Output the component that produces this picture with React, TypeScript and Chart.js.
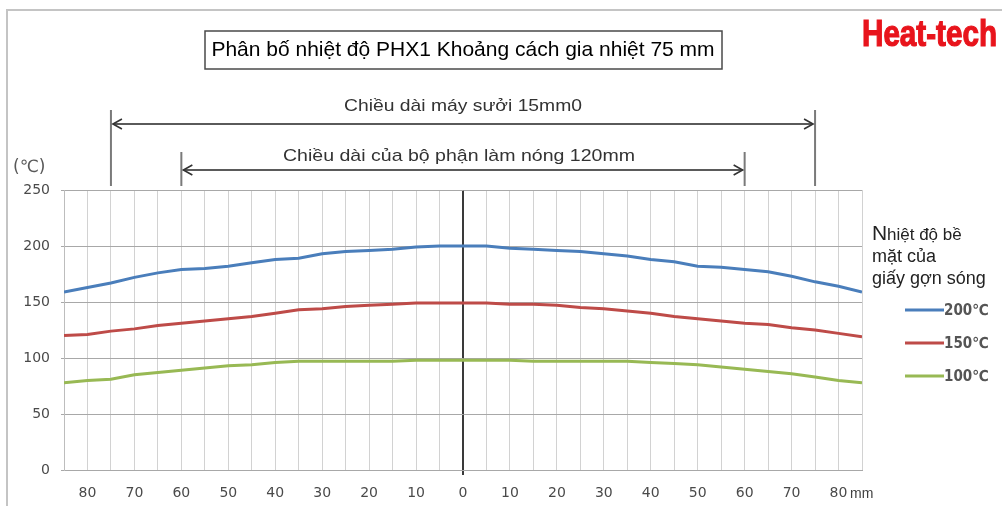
import { useEffect, useRef } from 'react';
import { Chart, registerables } from 'chart.js';

Chart.register(...registerables);

// ---- data ----
const positionsMm = [-85, -80, -75, -70, -65, -60, -55, -50, -45, -40, -35, -30, -25, -20, -15, -10, -5, 0, 5, 10, 15, 20, 25, 30, 35, 40, 45, 50, 55, 60, 65, 70, 75, 80, 85];
const temp200 = [159, 163, 167, 172, 176, 179, 180, 182, 185, 188, 189, 193, 195, 196, 197, 199, 200, 200, 200, 198, 197, 196, 195, 193, 191, 188, 186, 182, 181, 179, 177, 173, 168, 164, 159];
const temp150 = [120, 121, 124, 126, 129, 131, 133, 135, 137, 140, 143, 144, 146, 147, 148, 149, 149, 149, 149, 148, 148, 147, 145, 144, 142, 140, 137, 135, 133, 131, 130, 127, 125, 122, 119];
const temp100 = [78, 80, 81, 85, 87, 89, 91, 93, 94, 96, 97, 97, 97, 97, 97, 98, 98, 98, 98, 98, 97, 97, 97, 97, 97, 96, 95, 94, 92, 90, 88, 86, 83, 80, 78];
const xTickValues = [-85, -80, -75, -70, -65, -60, -55, -50, -45, -40, -35, -30, -25, -20, -15, -10, -5, 0, 5, 10, 15, 20, 25, 30, 35, 40, 45, 50, 55, 60, 65, 70, 75, 80, 85];
const seriesLabels = ['200℃', '150℃', '100℃'];
const seriesColors = ['#4a7ebb', '#be4b48', '#98b954'];
const heaterSpan = [-75, 75];
const elementSpan = [-60, 60];
const titleText = 'Phân bố nhiệt độ PHX1 Khoảng cách gia nhiệt 75 mm';
const heaterLabel = 'Chiều dài máy sưởi 15mm0';
const elementLabel = 'Chiều dài của bộ phận làm nóng 120mm';
const legendTitle = ['hiệt độ bề', 'mặt của', 'giấy gợn sóng'];

function drawArrow(ctx: CanvasRenderingContext2D, x1: number, x2: number, y: number) {
  ctx.save();
  ctx.strokeStyle = '#5a5a5a';
  ctx.lineWidth = 2;
  ctx.beginPath();
  ctx.moveTo(x1 + 2, y);
  ctx.lineTo(x2 - 2, y);
  ctx.stroke();
  ctx.lineWidth = 1.6;
  ctx.strokeStyle = '#333';
  ctx.beginPath();
  ctx.moveTo(x1 + 11, y - 5);
  ctx.lineTo(x1 + 2, y);
  ctx.lineTo(x1 + 11, y + 5);
  ctx.moveTo(x2 - 11, y - 5);
  ctx.lineTo(x2 - 2, y);
  ctx.lineTo(x2 - 11, y + 5);
  ctx.stroke();
  ctx.restore();
}

// draws centred text stretched horizontally to a given width
function drawStretched(ctx: CanvasRenderingContext2D, text: string, cx: number, cy: number, width: number) {
  const w = ctx.measureText(text).width;
  const sx = width / w;
  ctx.save();
  ctx.translate(cx, cy);
  ctx.scale(sx, 1);
  ctx.textAlign = 'center';
  ctx.textBaseline = 'middle';
  ctx.fillText(text, 0, 0);
  ctx.restore();
}

const decorPlugin = {
  id: 'decor',
  beforeDraw(chart: any) {
    const ctx = chart.ctx as CanvasRenderingContext2D;
    ctx.save();
    ctx.fillStyle = '#ffffff';
    ctx.fillRect(0, 0, chart.width, chart.height);
    ctx.restore();
  },
  afterDraw(chart: any) {
    const ctx = chart.ctx as CanvasRenderingContext2D;
    const xs = chart.scales.x;
    const area = chart.chartArea;
    ctx.save();

    // outer frame (top and left)
    ctx.strokeStyle = '#c4c4c4';
    ctx.lineWidth = 2;
    ctx.beginPath();
    ctx.moveTo(7, chart.height);
    ctx.lineTo(7, 10);
    ctx.lineTo(chart.width, 10);
    ctx.stroke();

    // title box
    ctx.strokeStyle = '#4a4a4a';
    ctx.lineWidth = 1.5;
    ctx.strokeRect(205, 31, 517, 38);
    ctx.fillStyle = '#000';
    ctx.font = '21px "Liberation Sans", Arial, sans-serif';
    ctx.textAlign = 'center';
    ctx.textBaseline = 'middle';
    ctx.fillText(titleText, 463, 50, 508);

    // Heat-tech logo
    ctx.fillStyle = '#e8141c';
    ctx.strokeStyle = '#e8141c';
    ctx.lineWidth = 1.2;
    ctx.font = 'bold 36px "Liberation Sans Narrow", "Liberation Sans", sans-serif';
    ctx.textAlign = 'left';
    ctx.textBaseline = 'alphabetic';
    ctx.fillText('Heat-tech', 862, 46, 135);
    ctx.strokeText('Heat-tech', 862, 46, 135);

    // dimension lines
    const hx1 = xs.getPixelForValue(heaterSpan[0]);
    const hx2 = xs.getPixelForValue(heaterSpan[1]);
    const ex1 = xs.getPixelForValue(elementSpan[0]);
    const ex2 = xs.getPixelForValue(elementSpan[1]);
    ctx.strokeStyle = '#7a7a7a';
    ctx.lineWidth = 2;
    ctx.beginPath();
    ctx.moveTo(hx1, 110); ctx.lineTo(hx1, 186);
    ctx.moveTo(hx2, 110); ctx.lineTo(hx2, 186);
    ctx.moveTo(ex1, 152); ctx.lineTo(ex1, 186);
    ctx.moveTo(ex2, 152); ctx.lineTo(ex2, 186);
    ctx.stroke();
    drawArrow(ctx, hx1, hx2, 124);
    drawArrow(ctx, ex1, ex2, 170);

    ctx.fillStyle = '#333';
    ctx.font = '17px "Liberation Sans", Arial, sans-serif';
    drawStretched(ctx, heaterLabel, (hx1 + hx2) / 2, 106, 238);
    drawStretched(ctx, elementLabel, (ex1 + ex2) / 2 - 4, 156, 352);

    // unit label
    ctx.fillStyle = '#595959';
    ctx.font = '17px "DejaVu Sans", sans-serif';
    ctx.textAlign = 'left';
    ctx.textBaseline = 'middle';
    ctx.fillText('(℃)', 13, 168);

    // mm label
    ctx.font = '14px "Liberation Sans Narrow", "Liberation Sans", sans-serif';
    ctx.fillStyle = '#404040';
    ctx.textAlign = 'left';
    ctx.fillText('mm', area.right - 12, 494);

    // legend title
    ctx.fillStyle = '#222';
    ctx.textAlign = 'left';
    ctx.textBaseline = 'alphabetic';
    ctx.font = '21px "Liberation Sans", Arial, sans-serif';
    ctx.fillText('N', 872, 240);
    ctx.font = '17px "Liberation Sans", Arial, sans-serif';
    ctx.fillText(legendTitle[0], 887, 240);
    ctx.font = '18px "Liberation Sans", Arial, sans-serif';
    ctx.fillText(legendTitle[1], 872, 262);
    ctx.fillText(legendTitle[2], 872, 284);

    // legend entries
    seriesLabels.forEach((lab, i) => {
      const y = 310 + i * 33;
      ctx.strokeStyle = seriesColors[i];
      ctx.lineWidth = 3;
      ctx.beginPath();
      ctx.moveTo(905, y);
      ctx.lineTo(944, y);
      ctx.stroke();
      ctx.fillStyle = '#555555';
      ctx.font = 'bold 15px "DejaVu Sans Condensed", "DejaVu Sans", sans-serif';
      ctx.textBaseline = 'middle';
      ctx.fillText(lab, 944, y + 1, 51);
    });

    ctx.restore();
  },
};

export default function App() {
  const ref = useRef<HTMLCanvasElement>(null);
  useEffect(() => {
    document.body.style.margin = '0';
    const canvas = ref.current!;
    const series = [temp200, temp150, temp100];
    const chart = new Chart(canvas, {
      type: 'line',
      data: {
        datasets: series.map((vals, i) => ({
          label: seriesLabels[i],
          data: positionsMm.map((x, j) => ({ x, y: vals[j] })),
          borderColor: seriesColors[i],
          backgroundColor: seriesColors[i],
          borderWidth: 3,
          pointRadius: 0,
          tension: 0,
        })),
      },
      options: {
        responsive: false,
        animation: false,
        events: [],
        layout: { padding: { left: 0, top: 190, right: 140, bottom: 0 } },
        plugins: {
          legend: { display: false },
          title: { display: false },
          tooltip: { enabled: false },
        },
        scales: {
          x: {
            type: 'linear',
            min: -85,
            max: 85,
            afterBuildTicks: (scale: any) => {
              scale.ticks = xTickValues.map((v) => ({ value: v }));
            },
            afterFit: (scale: any) => {
              scale.height = 36;
            },
            grid: {
              color: (c: any) => (c.tick && c.tick.value === 0 ? '#3a3a3a' : '#d2d2d2'),
              lineWidth: (c: any) => (c.tick && c.tick.value === 0 ? 2 : 1),
              tickColor: (c: any) => (c.tick && c.tick.value === 0 ? '#3a3a3a' : 'rgba(0,0,0,0)'),
              tickLength: 5,
            },
            border: { display: true, color: '#a8a8a8', width: 1 },
            ticks: {
              autoSkip: false,
              maxRotation: 0,
              padding: 10,
              color: '#4a4a4a',
              font: { family: '"DejaVu Sans", sans-serif', size: 14 },
              callback: (v: any) => (Number(v) % 10 === 0 ? String(Math.abs(Number(v))) : ''),
            },
          },
          y: {
            type: 'linear',
            min: 0,
            max: 250,
            afterFit: (scale: any) => {
              scale.width = 64;
            },
            grid: {
              color: '#a8a8a8',
              lineWidth: 1,
              tickLength: 3,
            },
            border: { display: true, color: '#bdbdbd', width: 1 },
            ticks: {
              stepSize: 50,
              padding: 11,
              color: '#4a4a4a',
              font: { family: '"DejaVu Sans", sans-serif', size: 14 },
            },
          },
        },
      },
      plugins: [decorPlugin],
    } as any);
    return () => chart.destroy();
  }, []);
  return (
    <div style={{ width: 1002, height: 506, position: 'relative', background: '#fff' }}>
      <canvas ref={ref} width={1002} height={506} style={{ display: 'block' }} />
    </div>
  );
}
